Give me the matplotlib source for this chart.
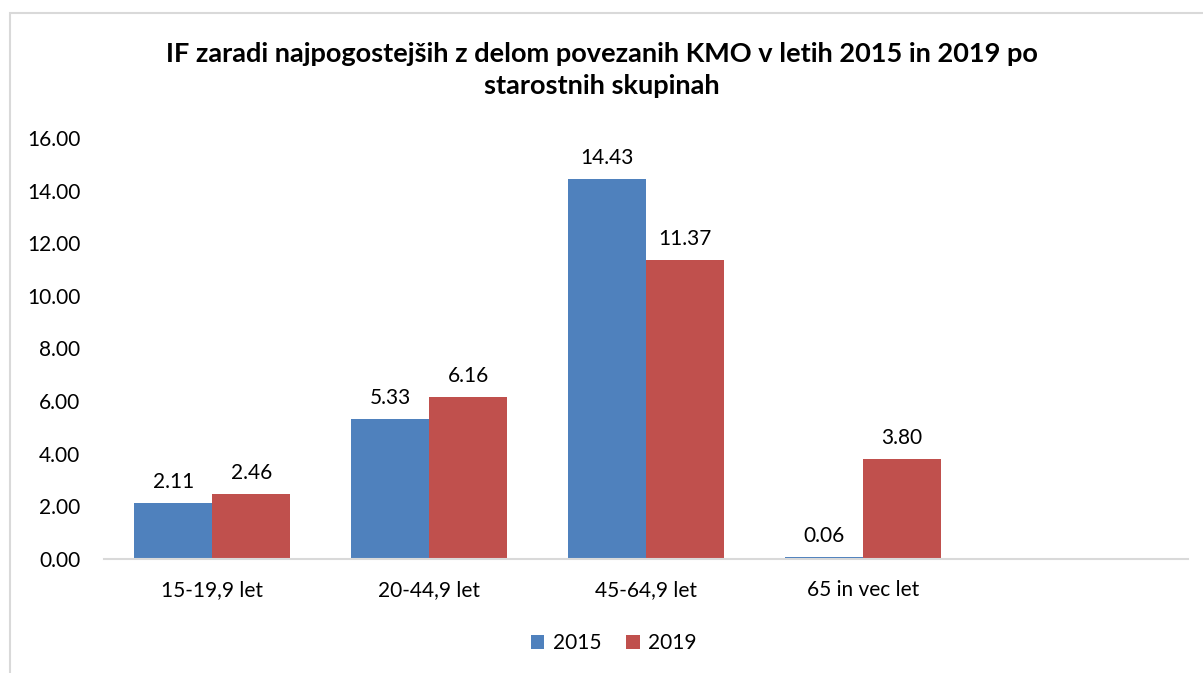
import matplotlib.pyplot as plt
import matplotlib.patches as mpatches
import numpy as np

plt.rcParams['font.family'] = ['Lato', 'DejaVu Sans']

categories = ['15-19,9 let', '20-44,9 let', '45-64,9 let', '65 in vec let']
values_2015 = [2.11, 5.33, 14.43, 0.06]
values_2019 = [2.46, 6.16, 11.37, 3.80]
series_names = ['2015', '2019']
colours = ['#4F81BD', '#C0504D']

fig = plt.figure(figsize=(12.03, 6.73), dpi=100)
ax = fig.add_axes([104/1203, 1-559/673, (1188-104)/1203, (559-138)/673])

# chart border like the excel chart area
fig.patches.append(mpatches.Rectangle((10/1203, -0.1), 1.2, (673-13)/673 + 0.1,
                                      transform=fig.transFigure, fill=False,
                                      edgecolor='#D9D9D9', linewidth=1.5))

x = np.arange(len(categories))
w = 0.36
bars1 = ax.bar(x - w/2, values_2015, w, color=colours[0], label=series_names[0])
bars2 = ax.bar(x + w/2, values_2019, w, color=colours[1], label=series_names[1])

for bars in (bars1, bars2):
    for b in bars:
        ax.annotate('%.2f' % b.get_height(), (b.get_x() + b.get_width()/2, b.get_height()),
                    xytext=(0, 8), textcoords='offset points', ha='center', va='bottom',
                    fontsize=15)

# the excel chart has an empty fifth slot on the right
ax.set_xlim(-0.5, 4.5)
ax.set_ylim(0, 16)
ax.set_yticks(np.arange(0, 17, 2))
ax.set_yticklabels(['%.2f' % v for v in np.arange(0, 17, 2)], fontsize=15)
ax.set_xticks(x)
ax.set_xticklabels(categories, fontsize=15)
ax.tick_params(axis='both', length=0)
ax.tick_params(axis='x', pad=15)
ax.tick_params(axis='y', pad=17)
for s in ['top', 'right', 'left']:
    ax.spines[s].set_visible(False)
ax.spines['bottom'].set_color('#D9D9D9')
ax.spines['bottom'].set_linewidth(1.5)

fig.text(0.5, 1-70/673, 'IF zaradi najpogostejših z delom povezanih KMO v letih 2015 in 2019 po\nstarostnih skupinah',
         ha='center', va='center', fontsize=19.5, fontweight='bold', linespacing=1.35)

fig.legend(loc='center', bbox_to_anchor=(0.51, 1-643/673), ncol=2, frameon=False,
           fontsize=15, handlelength=0.65, handleheight=0.65, columnspacing=1.2, handletextpad=0.4)

fig.savefig('out.png', dpi=100)
